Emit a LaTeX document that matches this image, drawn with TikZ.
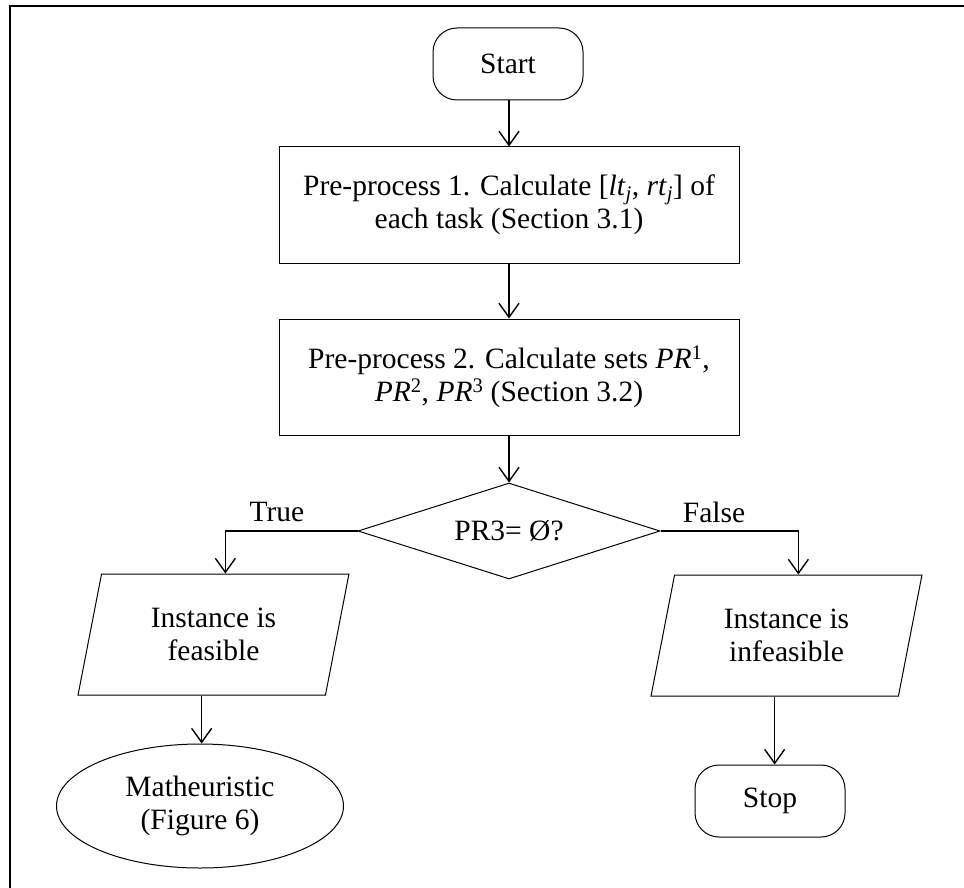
\documentclass[tikz,border=0pt]{standalone}
\usepackage{fontspec}
\setmainfont{Liberation Serif}
\usetikzlibrary{shapes.geometric,arrows.meta,calc}
\tikzset{
  base/.style={draw, line width=1pt, inner sep=0pt, align=center, font=\fontsize{29.5}{33}\selectfont},
  term/.style={base, rectangle, rounded corners=24pt, minimum width=150pt, minimum height=72pt},
  procbox/.style={base, rectangle, minimum width=460pt, minimum height=116pt},
  decis/.style={base, diamond, aspect=3.146, minimum width=302pt, minimum height=96pt},
  iobox/.style={base, trapezium, trapezium left angle=76, trapezium right angle=104, trapezium stretches=true, minimum width=271pt, minimum height=121pt},
  ovalbox/.style={base, ellipse, minimum width=287pt, minimum height=124pt},
  lbl/.style={font=\fontsize{29.5}{33}\selectfont, inner sep=0pt},
  arr/.style={line width=1.4pt, -{Straight Barb[length=14pt,width=20pt,line width=1.4pt]}},
  framel/.style={line width=2.5pt}
}
\begin{document}
\begin{tikzpicture}[x=1pt,y=-1pt]
\useasboundingbox (0,0) rectangle (964,888);
\coordinate (fb) at (10,888);
\coordinate (fc) at (10,6);
\coordinate (fr) at (964,6);
\draw[framel] (fb) -- (fc) -- (fr);

\node[term] (start) at (508,64) {\raisebox{-3pt}{Start}};
\node[procbox] (p1) at (509,205) {Pre-process 1. Calculate [\textit{lt}\textsubscript{\textit{j}}, \textit{rt}\textsubscript{\textit{j}}] of\\each task (Section 3.1)};
\node[procbox] (p2) at (509,377) {Pre-process 2. Calculate sets \textit{PR}\textsuperscript{1},\\\textit{PR}\textsuperscript{2}, \textit{PR}\textsuperscript{3} (Section 3.2)};
\node[decis] (dec) at (509,531) {\raisebox{-5pt}{PR3= Ø?}};
\node[iobox] (pl) at (213.5,634.5) {Instance is\\feasible};
\node[iobox] (pr) at (786.5,635.5) {Instance is\\infeasible};
\node[ovalbox] (ell) at (200,806) {Matheuristic\\(Figure 6)};
\node[term] (stop) at (770,801) {Stop};
\node[lbl] (tl) at (277,512) {True};
\node[lbl] (fl) at (714,512) {False};

\coordinate (plt) at ($(pl.top left corner)!0.5!(pl.top right corner)$);
\coordinate (plb) at ($(pl.bottom left corner)!0.5!(pl.bottom right corner)$);
\coordinate (prt) at ($(pr.top left corner)!0.5!(pr.top right corner)$);
\coordinate (prb) at ($(pr.bottom left corner)!0.5!(pr.bottom right corner)$);

\draw[arr] (start.south -| p1.north) -- (p1.north);
\draw[arr] (p1.south) -- (p2.north);
\draw[arr] (p2.south) -- (dec.north);
\draw[arr] (dec.west) -| (plt);
\draw[arr] (dec.east) -| (prt);
\draw[arr] (plb) -- (plb |- ell.north);
\draw[arr] (prb) -- (prb |- stop.north);
\end{tikzpicture}
\end{document}
